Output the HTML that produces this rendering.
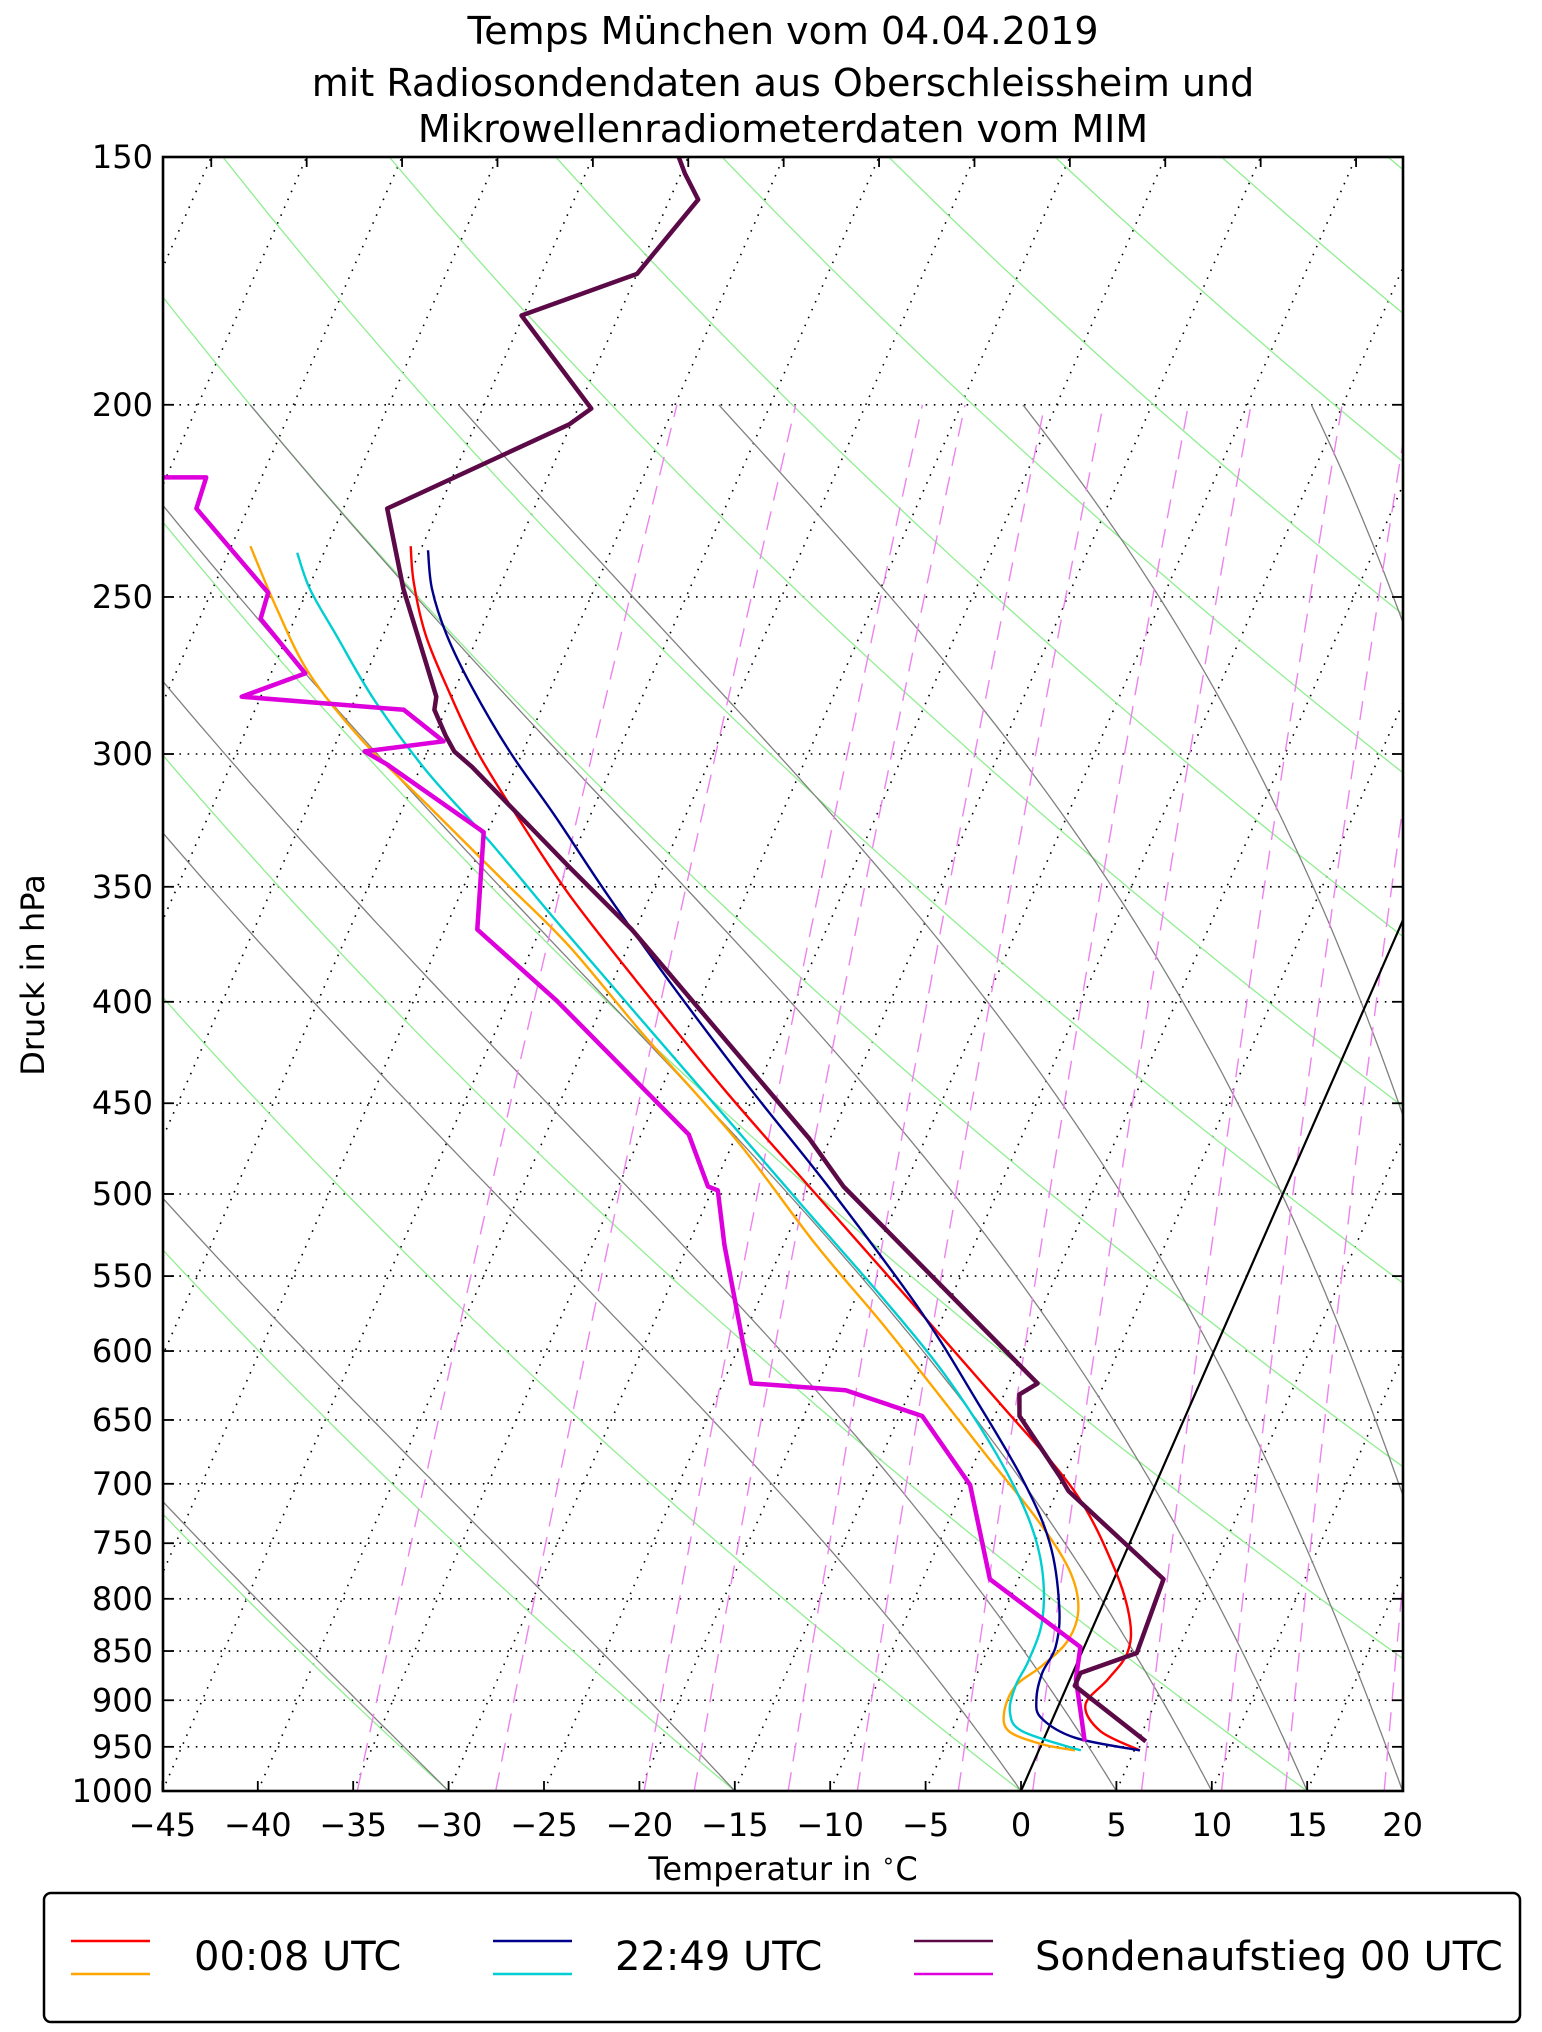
<!DOCTYPE html>
<html><head><meta charset="utf-8">
<style>
html,body{margin:0;padding:0;background:#fff;}
svg{display:block;font-family:"DejaVu Sans","Liberation Sans",sans-serif;}
</style></head>
<body>
<svg id="chart" width="1542" height="2032" viewBox="0 0 1542 2032" xmlns="http://www.w3.org/2000/svg">
<defs><clipPath id="plotclip"><rect x="163" y="157" width="1240" height="1634"/></clipPath></defs>
<rect x="0" y="0" width="1542" height="2032" fill="#fff"/>
<g font-size="38" text-anchor="middle" fill="#000">
<text x="783" y="44">Temps München vom 04.04.2019</text>
<text x="783" y="96">mit Radiosondendaten aus Oberschleissheim und</text>
<text x="783" y="142">Mikrowellenradiometerdaten vom MIM</text>
</g>
<g id="background-lines" clip-path="url(#plotclip)"></g>
<g id="series" clip-path="url(#plotclip)"></g>
<g id="axes"></g>
<text x="783" y="1880" font-size="32" text-anchor="middle">Temperatur in <tspan font-size="22" dy="-12">∘</tspan><tspan dy="12">C</tspan></text>
<text x="0" y="0" font-size="32" text-anchor="middle" transform="translate(44,975) rotate(-90)">Druck in hPa</text>
<g>
<rect x="44" y="1893" width="1476" height="129" rx="7" fill="#fff" stroke="#000" stroke-width="2.5"/>
<g>
<line x1="71" y1="1941" x2="150" y2="1941" stroke="#ff0000" stroke-width="2.5"/>
<line x1="71" y1="1974" x2="150" y2="1974" stroke="#ffa500" stroke-width="2.5"/>
<text x="194" y="1970" font-size="40">00:08 UTC</text>
</g>
<g>
<line x1="493" y1="1941" x2="572" y2="1941" stroke="#00008b" stroke-width="2.5"/>
<line x1="493" y1="1974" x2="572" y2="1974" stroke="#00ced1" stroke-width="2.5"/>
<text x="615" y="1970" font-size="40">22:49 UTC</text>
</g>
<g>
<line x1="914" y1="1941" x2="993" y2="1941" stroke="#5c0a47" stroke-width="2.5"/>
<line x1="914" y1="1974" x2="993" y2="1974" stroke="#dd00dd" stroke-width="2.5"/>
<text x="1035" y="1970" font-size="40">Sondenaufstieg 00 UTC</text>
</g>
</g>
</svg>
<script>
// ---- data ----
const pressureTicks=[150,200,250,300,350,400,450,500,550,600,650,700,750,800,850,900,950,1000];
const tempTicks=[-45,-40,-35,-30,-25,-20,-15,-10,-5,0,5,10,15,20];
const dryAdiabatT0=[-90,-75,-60,-45,-30,-15,0,15,30,45,60,75,90,105,120,135,150,165,180,195];
const moistAdiabatT0=[-45,-30,-15,0,5,10,15,20,25,30,35,40];
const mixingRatios=[0.2,0.4,0.8,1,1.5,2,3,4,6,8,10,14,16,20,24,28,32,40];
const sondeP=[150,152.9,157.6,171.8,180.3,200.9,204.6,225.6,247.7,276.5,280.7,285,293.8,299.1,304.6,341.6,367.8,468.8,495.7,623,631,647,694,706,782,852,872,885,944];
const sondeT=[-55.5,-54.8,-53.5,-55.0,-60.1,-54.3,-55.1,-62.7,-60.0,-56.3,-55.8,-55.6,-54.4,-53.6,-52.3,-45.0,-40.2,-26.1,-23.2,-8.5,-9.2,-8.7,-5.2,-4.4,2.6,2.9,0.4,0.4,5.4];
const sondeTdP=[217.6,217.6,225.6,248.8,256.4,273.2,280.7,285,295.6,299.1,303.7,328.5,367.8,399.5,466.7,495.7,497.9,530.4,598,623,628,647,701,782,846,878,919,944];
const sondeTd=[-75.2,-72.9,-72.7,-67.0,-66.8,-63.2,-66.0,-57.2,-54.4,-58.3,-56.8,-50.2,-48.3,-42.5,-32.5,-30.3,-29.7,-28.1,-24.7,-23.5,-18.4,-13.8,-9.7,-6.5,-0.2,0.3,1.5,2.2];
const mwr1P=[235.7,245.9,261.1,277.3,299.1,322.6,353.1,392.4,442.7,495.7,563,635.6,706,772.7,820.7,852,878,905,933,954];
const mwr1T=[-60.6,-59.6,-57.8,-55.5,-52.4,-48.8,-44.3,-38.5,-31.7,-25.0,-17.4,-10.2,-4.1,-0.2,1.8,2.4,2.0,1.4,2.8,5.3];
const mwr1TdP=[235.7,253.3,273.2,294.7,317.7,347.8,375,416.8,470.3,530.4,580.3,625.7,675.2,728.1,772.7,808.5,839.5,865.3,885,912.2,933,947,954];
const mwr1Td=[-69.0,-66.2,-63.0,-58.8,-53.9,-48.0,-43.1,-37.0,-29.8,-23.3,-18.1,-13.9,-9.7,-5.5,-2.6,-1.2,-1.0,-1.8,-2.7,-2.7,-2.0,0.0,1.9];
const mwr2P=[236.8,247.7,261.1,277.3,299.1,322.6,353.1,392.4,442.7,495.7,571.6,635.6,696.1,749.6,808.5,846,872,899,919,940,954];
const mwr2T=[-59.6,-58.5,-56.7,-54.2,-50.7,-46.8,-42.3,-36.8,-30.3,-24.0,-16.4,-11.3,-7.1,-4.2,-2.2,-1.5,-1.6,-1.3,-0.6,1.6,5.3];
const mwr2TdP=[237.5,247.7,261.1,281.6,306,332.5,363.9,404.5,456.3,507,563,616.3,675.2,728.1,772.7,820.7,858.8,885,912.2,933,954];
const mwr2Td=[-66.4,-64.9,-62.5,-59.0,-54.6,-49.6,-44.4,-38.2,-31.1,-24.9,-18.7,-13.6,-9.1,-5.9,-4.0,-2.8,-2.6,-2.7,-2.4,-1.3,2.2];

// ---- axes functions ----
const L=163,R=1403,TOP=157,BOT=1791;
const LN=Math.log(1000/150);
function yOf(p){return TOP+(BOT-TOP)*Math.log(p/150)/LN;}
function xOf(T,p){return 1021+19.08*T+0.4386*(BOT-yOf(p));}
const NS="http://www.w3.org/2000/svg";
function mk(tag,attrs,parent){const e=document.createElementNS(NS,tag);for(const k in attrs)e.setAttribute(k,attrs[k]);parent.appendChild(e);return e;}
function pathFrom(ps,ts){let d="";for(let i=0;i<ps.length;i++){d+=(i?"L":"M")+xOf(ts[i],ps[i]).toFixed(1)+","+yOf(ps[i]).toFixed(1);}return d;}
function smoothFrom(ps,ts){
  const pts=ps.map((p,i)=>[xOf(ts[i],p),yOf(p)]);
  let d="M"+pts[0][0].toFixed(1)+","+pts[0][1].toFixed(1);
  for(let i=0;i<pts.length-1;i++){
    const p0=pts[Math.max(0,i-1)],p1=pts[i],p2=pts[i+1],p3=pts[Math.min(pts.length-1,i+2)];
    const c1=[p1[0]+(p2[0]-p0[0])/6,p1[1]+(p2[1]-p0[1])/6];
    const c2=[p2[0]-(p3[0]-p1[0])/6,p2[1]-(p3[1]-p1[1])/6];
    d+="C"+c1[0].toFixed(1)+","+c1[1].toFixed(1)+" "+c2[0].toFixed(1)+","+c2[1].toFixed(1)+" "+p2[0].toFixed(1)+","+p2[1].toFixed(1);
  }
  return d;
}
const bg=document.getElementById('background-lines');
const ser=document.getElementById('series');
const ax=document.getElementById('axes');

for(const p of pressureTicks){
  if(p===150||p===1000)continue;
  const l=mk('line',{x1:L,x2:R,y1:yOf(p),y2:yOf(p),stroke:'#000','stroke-width':1.6,'stroke-dasharray':'1.6 6.6'},bg);
  
  
}
for(let T=-120;T<=20;T+=5){
  const l=mk('line',{x1:xOf(T,1000),y1:yOf(1000),x2:xOf(T,150),y2:yOf(150),stroke:'#000','stroke-width':1.6,'stroke-dasharray':'1.6 7'},bg);
  
  
}
for(const t0 of dryAdiabatT0){
  const ps=[],ts=[];const th=t0+273.15;
  for(let p=1000;p>=150;p-=10){ps.push(p);ts.push(th*Math.pow(p/1000,0.2857)-273.15);}
  const l=mk('path',{d:pathFrom(ps,ts),fill:'none',stroke:'#90ee90','stroke-width':1.3},bg);
  
  
}
function es(Tc){return 6.112*Math.exp(17.67*Tc/(Tc+243.5));}
function dTdp(T,p){const Tc=T-273.15;const e=es(Tc);const rs=0.622*e/(p-e);
  return (287.04*T+2.501e6*rs)/(1005.7+2.501e6*2.501e6*rs*0.622/(287.04*T*T))/p;}
for(const t0 of moistAdiabatT0){
  const ps=[1000],ts=[t0];let T=t0+273.15;
  for(let p=1000;p>200;p-=5){const h=-5;const k1=dTdp(T,p);const k2=dTdp(T+h*k1,p+h);T+=h*(k1+k2)/2;ps.push(p+h);ts.push(T-273.15);}
  const l=mk('path',{d:pathFrom(ps,ts),fill:'none',stroke:'#808080','stroke-width':1.3},bg);
  
  
}
for(const w of mixingRatios){
  const ps=[],ts=[];
  for(let p=1000;p>=200;p-=20){const e=(w/1000)*p/(0.622+w/1000);const a=Math.log(e/6.112);ps.push(p);ts.push(243.5*a/(17.67-a));}
  const l=mk('path',{d:pathFrom(ps,ts),fill:'none',stroke:'#ee82ee','stroke-width':1.4,'stroke-dasharray':'19 11'},bg);
  
  
}
{const l=mk('line',{x1:xOf(0,1000),y1:yOf(1000),x2:xOf(0,150),y2:yOf(150),stroke:'#000','stroke-width':2.2},bg);
 
 }

function series(ps,ts,color,w,name,smooth){
  const l=mk('path',{d:smooth?smoothFrom(ps,ts):pathFrom(ps,ts),fill:'none',stroke:color,'stroke-width':w,'stroke-linejoin':'round'},ser);
  
  
}
series(mwr1TdP,mwr1Td,'#ffa500',2.4,'mwr-0008-dewpoint',true);
series(mwr2TdP,mwr2Td,'#00ced1',2.4,'mwr-2249-dewpoint',true);
series(mwr1P,mwr1T,'#ff0000',2.4,'mwr-0008-temperature',true);
series(mwr2P,mwr2T,'#00008b',2.4,'mwr-2249-temperature',true);
series(sondeTdP,sondeTd,'#dd00dd',4.5,'sonde-dewpoint',false);
series(sondeP,sondeT,'#5c0a47',4.5,'sonde-temperature',false);

{const f=mk('rect',{x:L,y:TOP,width:R-L,height:BOT-TOP,fill:'none',stroke:'#000','stroke-width':2.6},ax);
 
 }
for(const p of pressureTicks){
  const y=yOf(p);
  mk('line',{x1:L,x2:L+11,y1:y,y2:y,stroke:'#000','stroke-width':1.8},ax);
  mk('line',{x1:R-11,x2:R,y1:y,y2:y,stroke:'#000','stroke-width':1.8},ax);
  const t=mk('text',{x:L-10,y:y+11,'font-size':32,'text-anchor':'end'},ax);
  t.textContent=String(p);
  
  
}
for(const T of tempTicks){
  const x=xOf(T,1000);
  mk('line',{x1:x,x2:x,y1:BOT,y2:BOT-10,stroke:'#000','stroke-width':1.8},ax);
  const t=mk('text',{x:x,y:1836,'font-size':32,'text-anchor':'middle'},ax);
  t.textContent=(T<0?'\u2212'+(-T):String(T));
  
  
}
for(let T=-120;T<=20;T+=5){
  const x=xOf(T,150);
  if(x<L||x>R)continue;
  mk('line',{x1:x,x2:x,y1:TOP,y2:TOP+10,stroke:'#000','stroke-width':1.8},ax);
}
</script>
</body></html>
